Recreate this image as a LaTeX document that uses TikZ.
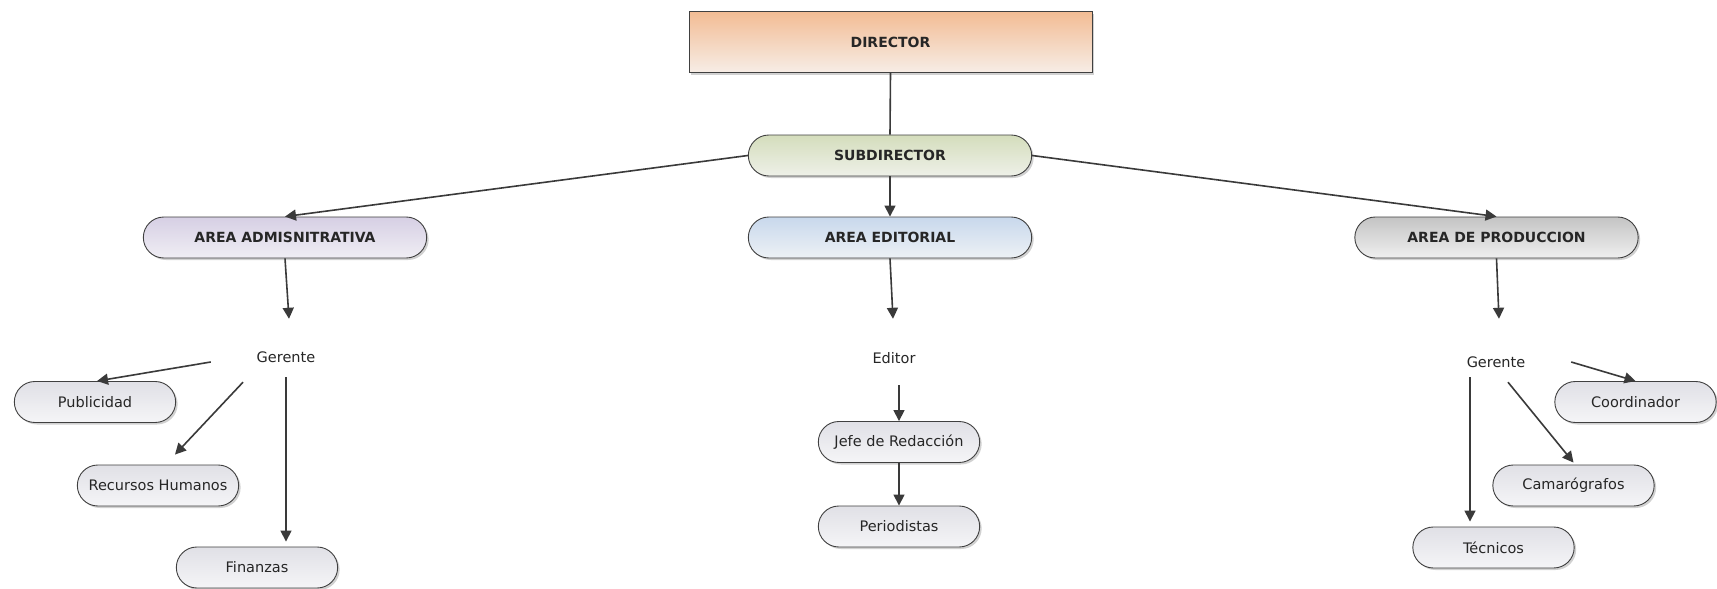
\documentclass[tikz,border=0pt]{standalone}
\usepackage{fontspec}
\setmainfont{DejaVu Sans}
\usetikzlibrary{arrows.meta,shadows,shapes.misc}
\definecolor{bordc}{HTML}{404040}
\definecolor{arrc}{HTML}{3A3A3A}
\definecolor{dirT}{HTML}{F2BC94}
\definecolor{dirB}{HTML}{F7EDE6}
\definecolor{subT}{HTML}{D4DDBC}
\definecolor{subB}{HTML}{EEF0E8}
\definecolor{admT}{HTML}{D6CFE4}
\definecolor{admB}{HTML}{F0EEF4}
\definecolor{ediT}{HTML}{C8D8EC}
\definecolor{ediB}{HTML}{EDF1F5}
\definecolor{proT}{HTML}{C4C4C4}
\definecolor{proB}{HTML}{EFEFEF}
\definecolor{leafT}{HTML}{E0E0E6}
\definecolor{leafB}{HTML}{F5F5F7}
\tikzset{
  shad/.style={drop shadow={shadow xshift=2pt,shadow yshift=-2pt,opacity=0.18,fill=black}},
  capf/.style={font=\fontsize{14}{16}\selectfont\bfseries, text=black!85},
  dirbox/.style={rectangle, draw=bordc, line width=0.9pt, minimum width=403pt, minimum height=61pt,
    top color=dirT, bottom color=dirB, shad, capf},
  pill/.style={rounded rectangle, draw=bordc, line width=0.9pt, minimum width=290pt, minimum height=41pt, shad, capf},
  leaf/.style={rounded rectangle, draw=bordc, line width=0.9pt, minimum width=168pt, minimum height=41pt,
    top color=leafT, bottom color=leafB, shad, font=\fontsize{14.5}{16}\selectfont, text=black!85},
  lbl/.style={rectangle, minimum width=150pt, minimum height=40pt, inner sep=0pt, font=\fontsize{14.5}{16}\selectfont, text=black!85},
  arr/.style={-{Triangle[length=11pt,width=11pt]}, line width=1.6pt, draw=arrc},
  plain/.style={line width=1.6pt, draw=arrc},
}
\begin{document}
\begin{tikzpicture}[x=1pt,y=-1pt]
\useasboundingbox[fill=white] (0,0) rectangle (1717,589);

\node[dirbox] (dir) at (890.5,42) {DIRECTOR};
\node[pill, top color=subT, bottom color=subB] (sub) at (890,155.5) {SUBDIRECTOR};
\node[pill, top color=admT, bottom color=admB] (adm) at (285,237.5) {AREA ADMISNITRATIVA};
\node[pill, top color=ediT, bottom color=ediB] (edi) at (890,237.5) {AREA EDITORIAL};
\node[pill, top color=proT, bottom color=proB] (pro) at (1496.5,237.5) {AREA DE PRODUCCION};

\node[lbl] (gA) at (286,357) {Gerente};
\node[leaf] (pub) at (95,402) {Publicidad};
\node[leaf] (rh) at (158,485.5) {Recursos Humanos};
\node[leaf] (fin) at (257,567.5) {Finanzas};

\node[lbl] (ed) at (894,358) {Editor};
\node[leaf] (jef) at (899,442) {Jefe de Redacción};
\node[leaf] (per) at (899,526.5) {Periodistas};

\node[lbl] (gP) at (1496,362) {Gerente};
\node[leaf] (coo) at (1635.5,402) {Coordinador};
\node[leaf] (cam) at (1573.5,485.5) {Camarógrafos};
\node[leaf] (tec) at (1493.5,547.5) {Técnicos};

\draw[plain] (dir.south) -- (sub.north);
\draw[arr] (sub.west) -- (adm.north);
\draw[arr] (sub.south) -- (edi.north);
\draw[arr] (sub.east) -- (pro.north);

\draw[arr] (adm.south) -- ([xshift=3pt,yshift=18pt]gA.north);
\draw[arr] ([yshift=-5pt]gA.west) -- ([xshift=2pt]pub.north);
\draw[arr] ([xshift=-43pt,yshift=-5pt]gA.south) -- ([xshift=17pt,yshift=10pt]rh.north);
\draw[arr] (gA.south) -- ([xshift=29pt,yshift=5pt]fin.north);

\draw[arr] (edi.south) -- ([xshift=-1pt,yshift=19pt]ed.north);
\draw[arr] ([xshift=5pt,yshift=-7pt]ed.south) -- (jef.north);
\draw[arr] (jef.south) -- (per.north);

\draw[arr] (pro.south) -- ([xshift=3pt,yshift=23pt]gP.north);
\draw[arr] (gP.east) -- (coo.north);
\draw[arr] ([xshift=12pt]gP.south) -- ([yshift=2pt]cam.north);
\draw[arr] ([xshift=-26pt,yshift=5pt]gP.south) -- ([xshift=-23.5pt,yshift=5pt]tec.north);
\end{tikzpicture}
\end{document}
